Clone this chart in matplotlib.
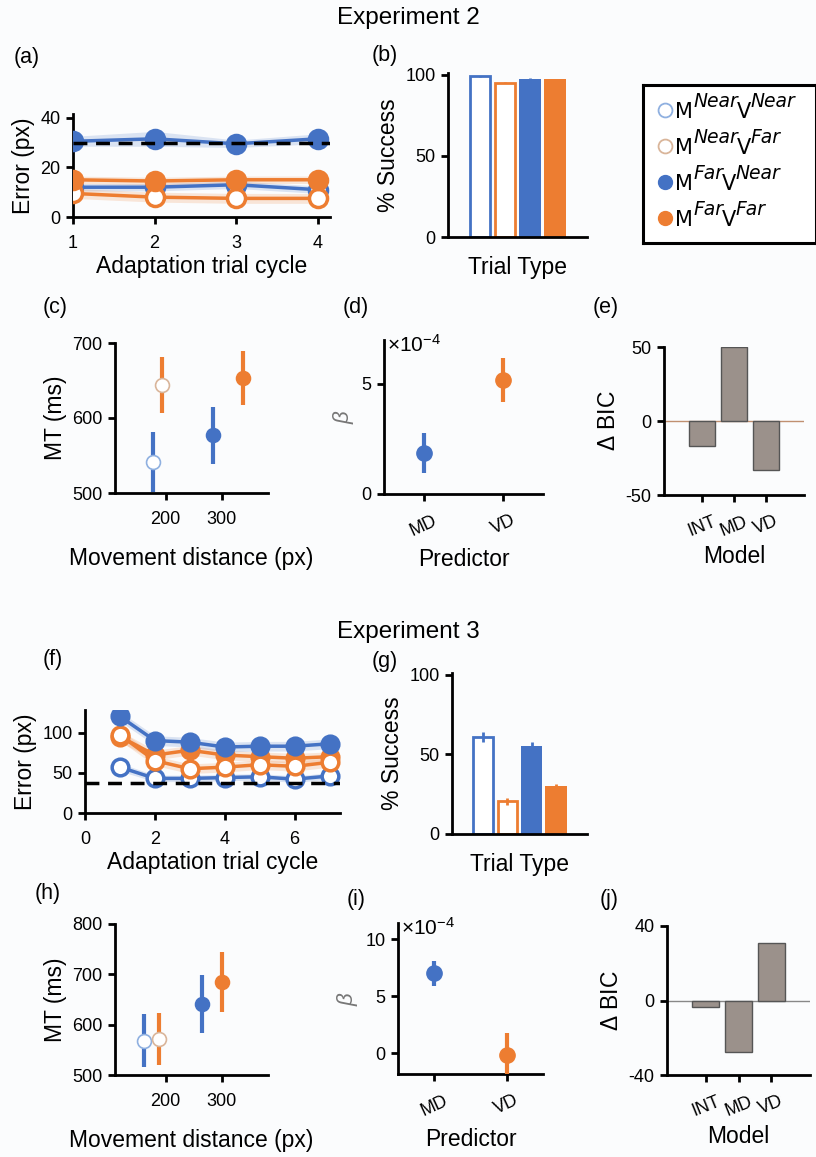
import numpy as np
import matplotlib
matplotlib.use("Agg")
import matplotlib.pyplot as plt

plt.rcParams['font.family'] = ['Liberation Sans', 'DejaVu Sans']
plt.rcParams['mathtext.fontset'] = 'custom'
plt.rcParams['mathtext.rm'] = 'Liberation Sans'
plt.rcParams['mathtext.it'] = 'Liberation Sans:italic'
plt.rcParams['axes.unicode_minus'] = False

BLUE = '#4472c4'
ORANGE = '#ed7d31'
BARGRAY = '#9b918b'
BG = '#fbfcfd'

conds = ['NN', 'NF', 'FN', 'FF']  # M^Near V^Near, M^Near V^Far, M^Far V^Near, M^Far V^Far
leg_parts = [('Near', 'Near'), ('Near', 'Far'), ('Far', 'Near'), ('Far', 'Far')]

# ---- Experiment 2 ----
cyc2 = [1, 2, 3, 4]
err2 = {'NN': [12, 12, 13, 11],
        'NF': [9.5, 8, 7.5, 7.5],
        'FN': [30.5, 31.5, 29.5, 31.5],
        'FF': [15, 14.5, 15, 15]}
sem2 = {'NN': [1.5, 1.5, 1.5, 1.5],
        'NF': [2, 2, 2, 2],
        'FN': [2, 3, 1.5, 2],
        'FF': [1.5, 1.5, 1.5, 1.5]}
thresh2 = 30

succ2 = [99, 95, 97.5, 97]
succ2_sem = [0.3, 0.3, 0.3, 0.3]

mt2_x = [177, 193, 284, 338]
mt2_y = [541, 644, 577, 653]
mt2_yerr = [40, 37, 38, 36]
mt2_xerr = [0, 0, 8, 10]

beta2 = [1.86, 5.18]
beta2_err = [0.92, 1.0]
bic2 = [-17, 50, -33]

# ---- Experiment 3 ----
cyc3 = [1, 2, 3, 4, 5, 6, 7]
err3 = {'NN': [57, 43, 43, 44, 45, 42, 46],
        'NF': [97, 65, 55, 57, 60, 58, 63],
        'FN': [120, 90, 88, 82, 83, 83, 86],
        'FF': [95, 72, 78, 72, 70, 68, 70]}
sem3 = {'NN': [5, 4, 4, 4, 4, 4, 4],
        'NF': [7, 6, 6, 6, 6, 6, 6],
        'FN': [6, 6, 6, 6, 6, 6, 6],
        'FF': [7, 6, 6, 6, 6, 6, 6]}
thresh3 = 37

succ3 = [61, 20.5, 55, 30]
succ3_sem = [3, 2, 3, 1.5]

mt3_x = [161, 188, 264, 301]
mt3_y = [568, 572, 641, 685]
mt3_yerr = [53, 52, 58, 60]

beta3 = [7.0, -0.1]
beta3_err = [1.1, 1.85]
bic3 = [-3.5, -27.5, 31]

predictors = ['MD', 'VD']
models = ['INT', 'MD', 'VD']

color = {'NN': BLUE, 'NF': ORANGE, 'FN': BLUE, 'FF': ORANGE}
filled = {'NN': False, 'NF': False, 'FN': True, 'FF': True}
light = {'NN': '#8fb0e0', 'NF': '#d9b59a'}

W, H = 816, 1157
fig = plt.figure(figsize=(W / 100, H / 100), dpi=100, facecolor=BG)


def px_axes(l, t, r, b):
    ax = fig.add_axes([l / W, 1 - b / H, (r - l) / W, (b - t) / H])
    ax.set_facecolor('none')
    for s in ['top', 'right']:
        ax.spines[s].set_visible(False)
    for s in ['left', 'bottom']:
        ax.spines[s].set_linewidth(2)
    ax.tick_params(direction='out', width=2, length=5, labelsize=13, pad=4)
    ax.tick_params(axis='x', pad=8)
    return ax


def lbl(x, y, s, size=15.5):
    fig.text(x / W, 1 - y / H, s, fontsize=size, ha='left', va='center')


def mk(c):
    return dict(marker='o', color=color[c], mec=color[c],
                mfc=color[c] if filled[c] else 'white')


def error_lines(ax, x, data, sem, order, ms, lw):
    for c in order:
        y = np.array(data[c])
        s = np.array(sem[c])
        ax.fill_between(x, y - s, y + s, color=color[c], alpha=0.18, lw=0)
        ax.plot(x, y, lw=lw, ms=ms, mew=2.5, zorder=3, **mk(c))


def bars(ax, vals, sems):
    xs = np.arange(1, 5)
    for i, c in enumerate(conds):
        if filled[c]:
            ax.bar(xs[i], vals[i], 0.88, color=color[c], lw=0)
        else:
            ax.bar(xs[i], vals[i], 0.8, facecolor='white', edgecolor=color[c], lw=2)
        ax.errorbar(xs[i], vals[i], yerr=sems[i], color=color[c], lw=2, capsize=0)
    ax.set_xticks([])
    ax.set_xlim(-0.28, 5.28)
    ax.set_ylim(0, 101)
    ax.set_yticks([0, 50, 100])
    ax.set_ylabel('% Success', fontsize=16.5)
    ax.set_xlabel('Trial Type', fontsize=16.5, labelpad=14)


def mt_plot(ax, xs, ys, yerr, xerr=None):
    for i, c in enumerate(conds):
        ax.errorbar(xs[i], ys[i], yerr=yerr[i], xerr=None if xerr is None else xerr[i],
                    fmt='o', ms=10, mew=1.2, lw=3, capsize=0, ecolor=color[c],
                    mec=color[c] if filled[c] else light[c],
                    mfc=color[c] if filled[c] else 'white', zorder=3)
    ax.set_xlim(110, 382)
    ax.set_xticks([200, 300])
    ax.set_xlabel('Movement distance (px)', fontsize=16.5, labelpad=14)
    ax.set_ylabel('MT (ms)', fontsize=16.5)


def beta_plot(ax, vals, errs, ylim, yticks):
    cols = [BLUE, ORANGE]
    for i in range(2):
        ax.errorbar(i + 1, vals[i], yerr=errs[i], fmt='o', ms=11, lw=3, capsize=0,
                    color=cols[i], zorder=3)
    ax.set_xlim(0.5, 2.5)
    ax.set_ylim(*ylim)
    ax.set_yticks(yticks)
    ax.set_xticks([1, 2])
    ax.set_xticklabels(predictors, rotation=25)
    ax.set_xlabel('Predictor', fontsize=16.5, labelpad=6)
    ax.set_ylabel(r'$\beta$', fontsize=16, color='#777777', labelpad=4)
    ax.text(0.02, 0.97, r'$\times$10$^{-4}$', transform=ax.transAxes, fontsize=15,
            va='center', ha='left')


def bic_plot(ax, vals, ylim, yticks, zc):
    ax.axhline(0, color=zc, lw=1, zorder=1)
    ax.bar([1, 2, 3], vals, 0.82, color=BARGRAY, edgecolor='#555555', lw=1, zorder=2)
    ax.set_xlim(-0.19, 4.19)
    ax.set_ylim(*ylim)
    ax.set_yticks(yticks)
    ax.set_xticks([1, 2, 3])
    ax.set_xticklabels(models, rotation=22)
    ax.set_xlabel('Model', fontsize=16.5, labelpad=4)
    ax.set_ylabel(r'$\Delta$ BIC', fontsize=16.5)


# titles
fig.text(408 / W, 1 - 18 / H, 'Experiment 2', fontsize=17.5, ha='center', va='center')
fig.text(408 / W, 1 - 632 / H, 'Experiment 3', fontsize=17.5, ha='center', va='center')

# (a)
ax = px_axes(73, 114, 330, 217)
error_lines(ax, cyc2, err2, sem2, ['NN', 'NF', 'FF', 'FN'], ms=13, lw=2.5)
ax.axhline(thresh2, color='black', ls=(0, (4, 2.5)), lw=2.5, zorder=4)
ax.set_xlim(1, 4.15)
ax.set_ylim(0, 41.5)
ax.set_xticks(cyc2)
ax.set_yticks([0, 20, 40])
ax.set_xlabel('Adaptation trial cycle', fontsize=16.5, labelpad=2)
ax.set_ylabel('Error (px)', fontsize=16.5)
lbl(14, 57, '(a)')

# (b)
ax = px_axes(448, 73, 587, 237)
bars(ax, succ2, succ2_sem)
lbl(372, 56, '(b)')

# legend box, drawn by hand so the superscripts keep near full size
lax = fig.add_axes([643 / W, 1 - 243 / H, 173 / W, 158 / H])
lax.set_xticks([])
lax.set_yticks([])
lax.set_facecolor('white')
lax.set_xlim(0, 173)
lax.set_ylim(158, 0)
for s in lax.spines.values():
    s.set_linewidth(2.2)
base = dict(fontsize=15, family='DejaVu Sans')
sup = dict(fontsize=13.5, family='DejaVu Sans', style='italic')
for i, c in enumerate(conds):
    yc = 25 + 36 * i
    if filled[c]:
        lax.plot(22, yc, 'o', ms=10, color=color[c])
    else:
        lax.plot(22, yc, 'o', ms=10, mfc='white', mec=light[c], mew=1.3)
    m, v = leg_parts[i]
    t = lax.text(32, yc + 8, 'M', va='baseline', **base)
    t = lax.annotate(m, xy=(1, 0), xycoords=t, xytext=(0.3, 8), textcoords='offset points',
                     va='bottom', **sup)
    t = lax.annotate('V', xy=(1, 0), xycoords=t, xytext=(-1, -8), textcoords='offset points',
                     va='bottom', **base)
    lax.annotate(v, xy=(1, 0), xycoords=t, xytext=(-0.5, 8), textcoords='offset points',
                 va='bottom', **sup)

# (c)
ax = px_axes(115, 343, 268, 493)
mt_plot(ax, mt2_x, mt2_y, mt2_yerr, mt2_xerr)
ax.set_ylim(500, 700)
ax.set_yticks([500, 600, 700])
lbl(43, 308, '(c)')

# (d)
ax = px_axes(384, 340, 543, 494)
beta_plot(ax, beta2, beta2_err, (0, 7), [0, 5])
lbl(343, 308, '(d)')

# (e)
ax = px_axes(664, 347, 804, 495)
bic_plot(ax, bic2, (-50, 50), [-50, 0, 50], '#c09070')
lbl(593, 308, '(e)')

# (f)
ax = px_axes(85, 710, 340, 813)
error_lines(ax, cyc3, err3, sem3, ['NN', 'FF', 'NF', 'FN'], ms=12, lw=2.5)
ax.axhline(thresh3, color='black', ls=(0, (4, 2.5)), lw=2.5, zorder=4)
ax.set_xlim(0, 7.3)
ax.set_ylim(0, 128)
ax.set_xticks([0, 2, 4, 6])
ax.set_yticks([0, 50, 100])
ax.set_xlabel('Adaptation trial cycle', fontsize=16.5, labelpad=2)
ax.set_ylabel('Error (px)', fontsize=16.5)
lbl(43, 660, '(f)')

# (g)
ax = px_axes(452, 673, 587, 834)
bars(ax, succ3, succ3_sem)
lbl(372, 661, '(g)')

# (h)
ax = px_axes(115, 924, 268, 1075)
mt_plot(ax, mt3_x, mt3_y, mt3_yerr)
ax.set_ylim(500, 800)
ax.set_yticks([500, 600, 700, 800])
lbl(35, 894, '(h)')

# (i)
ax = px_axes(398, 923, 543, 1074)
beta_plot(ax, beta3, beta3_err, (-1.8, 11.4), [0, 5, 10])
lbl(347, 900, '(i)')

# (j)
ax = px_axes(667, 926, 810, 1075)
bic_plot(ax, bic3, (-40, 40), [-40, 0, 40], '#888888')
lbl(600, 900, '(j)')

fig.savefig('out.png', dpi=100, facecolor=BG)
